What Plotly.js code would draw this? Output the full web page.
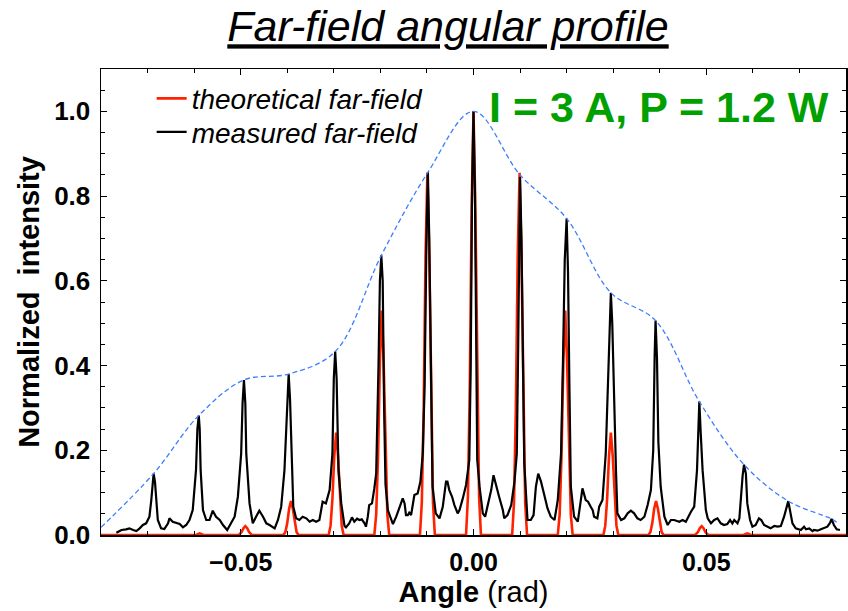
<!DOCTYPE html>
<html>
<head>
<meta charset="utf-8">
<script src="https://cdn.plot.ly/plotly-3.0.1.min.js"></script>
<style>html,body{margin:0;padding:0;background:#fff;}#chart{width:848px;height:611px;}</style>
</head>
<body>
<div id="chart"></div>
<script>
// Measured far-field (black)
const measAngle = [
-0.0767,-0.0756,-0.0746,-0.0739,-0.0731,-0.0724,-0.0717,-0.0710,-0.0703,-0.0696,-0.0692,-0.0689,-0.0687,-0.0684,-0.0681,-0.0678,
-0.0671,-0.0664,-0.0656,-0.0653,-0.0646,-0.0638,-0.0631,-0.0624,-0.0617,-0.0610,-0.0603,-0.0596,-0.0593,-0.0590,-0.0588,-0.0586,
-0.0581,-0.0574,-0.0567,-0.0560,-0.0553,-0.0545,-0.0538,-0.0529,-0.0520,-0.0513,-0.0506,-0.0499,-0.0496,-0.0493,-0.0490,-0.0488,
-0.0481,-0.0474,-0.0467,-0.0460,-0.0452,-0.0445,-0.0438,-0.0431,-0.0427,-0.0420,-0.0413,-0.0406,-0.0400,-0.0397,-0.0394,-0.0390,
-0.0387,-0.0381,-0.0374,-0.0367,-0.0359,-0.0352,-0.0345,-0.0338,-0.0331,-0.0324,-0.0317,-0.0309,-0.0303,-0.0300,-0.0297,-0.0294,
-0.0290,-0.0284,-0.0277,-0.0274,-0.0267,-0.0261,-0.0256,-0.0250,-0.0245,-0.0240,-0.0234,-0.0231,-0.0227,-0.0224,-0.0218,-0.0213,
-0.0209,-0.0204,-0.0201,-0.0198,-0.0195,-0.0192,-0.0189,-0.0184,-0.0177,-0.0173,-0.0166,-0.0159,-0.0152,-0.0148,-0.0145,-0.0141,
-0.0138,-0.0134,-0.0131,-0.0127,-0.0120,-0.0114,-0.0109,-0.0105,-0.0101,-0.0098,-0.0095,-0.0091,-0.0088,-0.0081,-0.0073,-0.0066,
-0.0059,-0.0056,-0.0052,-0.0046,-0.0041,-0.0034,-0.0030,-0.0023,-0.0016,-0.0009,-0.0006,-0.0003,0.0000,0.0003,0.0006,0.0008,
0.0013,0.0020,0.0025,0.0030,0.0038,0.0043,0.0048,0.0055,0.0063,0.0066,0.0073,0.0081,0.0088,0.0093,0.0096,0.0098,
0.0100,0.0103,0.0106,0.0109,0.0116,0.0123,0.0129,0.0134,0.0139,0.0145,0.0152,0.0159,0.0166,0.0174,0.0181,0.0188,
0.0192,0.0196,0.0200,0.0203,0.0206,0.0209,0.0216,0.0224,0.0229,0.0234,0.0241,0.0246,0.0252,0.0256,0.0259,0.0266,
0.0270,0.0277,0.0284,0.0288,0.0292,0.0295,0.0298,0.0302,0.0306,0.0309,0.0317,0.0324,0.0331,0.0338,0.0345,0.0352,
0.0359,0.0367,0.0374,0.0381,0.0386,0.0389,0.0391,0.0394,0.0397,0.0402,0.0410,0.0417,0.0424,0.0431,0.0442,0.0449,
0.0456,0.0467,0.0474,0.0480,0.0482,0.0485,0.0488,0.0492,0.0499,0.0503,0.0510,0.0517,0.0524,0.0531,0.0538,0.0545,
0.0551,0.0556,0.0560,0.0567,0.0571,0.0574,0.0578,0.0581,0.0585,0.0588,0.0594,0.0599,0.0606,0.0613,0.0618,0.0624,
0.0631,0.0638,0.0646,0.0653,0.0660,0.0667,0.0676,0.0681,0.0685,0.0692,0.0703,0.0710,0.0714,0.0721,0.0728,0.0731,
0.0739,0.0746,0.0753,0.0760,0.0766,0.0769,0.0774,0.0780,0.0787
];
const measValue = [
0.0055,0.0118,0.0134,0.0157,0.0118,0.0094,0.0157,0.0236,0.0275,0.0432,0.0825,0.125,0.145,0.125,0.0825,0.0354,
0.0157,0.0141,0.0275,0.0393,0.0314,0.0275,0.0259,0.0181,0.0236,0.0354,0.0589,0.153,0.25,0.282,0.25,0.153,
0.0589,0.0354,0.0354,0.0573,0.0432,0.0354,0.0236,0.0118,0.0314,0.0432,0.0904,0.192,0.31,0.366,0.31,0.192,
0.0746,0.0275,0.0432,0.0573,0.0432,0.0275,0.0236,0.0196,0.0157,0.0354,0.0668,0.153,0.32,0.380,0.32,0.153,
0.0668,0.0393,0.0354,0.0432,0.0393,0.0314,0.0354,0.0314,0.0354,0.0786,0.0746,0.106,0.192,0.37,0.433,0.37,
0.153,0.0746,0.0212,0.0181,0.0275,0.0416,0.0314,0.0385,0.0354,0.0369,0.0275,0.0196,0.0432,0.0707,0.0746,0.110,
0.145,0.40,0.60,0.66,0.60,0.30,0.12,0.0589,0.0354,0.0259,0.0432,0.0628,0.0864,0.0746,0.0471,0.0471,
0.0526,0.0471,0.0668,0.0943,0.0982,0.126,0.192,0.35,0.70,0.856,0.70,0.35,0.114,0.0511,0.0393,0.0668,
0.126,0.126,0.106,0.0903,0.0707,0.0511,0.0589,0.0864,0.118,0.177,0.40,0.82,1.0,0.82,0.40,0.177,
0.114,0.0511,0.0432,0.0652,0.106,0.141,0.118,0.0903,0.0589,0.0393,0.0471,0.0707,0.126,0.192,0.45,0.72,
0.845,0.70,0.35,0.169,0.0354,0.0354,0.0471,0.114,0.145,0.126,0.0943,0.0628,0.0432,0.0354,0.0825,0.192,
0.40,0.65,0.747,0.62,0.35,0.114,0.0432,0.0314,0.0707,0.110,0.0825,0.0786,0.066,0.0589,0.0432,0.0393,
0.0668,0.0825,0.192,0.35,0.50,0.572,0.50,0.30,0.153,0.0511,0.0354,0.0393,0.0511,0.0573,0.0511,0.0393,
0.0354,0.0432,0.0707,0.106,0.20,0.42,0.506,0.42,0.22,0.114,0.0432,0.0236,0.0354,0.0354,0.0314,0.0354,
0.0314,0.055,0.0668,0.153,0.24,0.315,0.24,0.153,0.0589,0.0393,0.0275,0.0354,0.0393,0.0275,0.0236,0.0259,
0.0354,0.0275,0.0354,0.0275,0.0393,0.0903,0.14,0.166,0.145,0.0746,0.0354,0.0196,0.0236,0.0393,0.0354,0.0236,
0.0196,0.0157,0.0212,0.0196,0.0212,0.0432,0.080,0.055,0.0275,0.0157,0.0118,0.0196,0.0134,0.0157,0.0094,0.0118,
0.0102,0.0134,0.0157,0.0196,0.0291,0.038,0.0236,0.0134,0.0118
];

// Theoretical far-field (red)
const theoAngle = [
-0.0800,-0.0596,-0.0588,-0.0580,
-0.0504,-0.0498,-0.0494,-0.0490,-0.0486,-0.0482,-0.0476,
-0.0408,-0.0404,-0.0400,-0.0396,-0.0392,-0.0388,-0.0384,-0.0380,-0.0376,
-0.0311,-0.0307,-0.0303,-0.0299,-0.0295,-0.0291,-0.0287,-0.0283,-0.0279,
-0.0213,-0.0209,-0.0205,-0.0201,-0.0197,-0.0193,-0.0189,-0.0185,-0.0181,
-0.0115,-0.0111,-0.0107,-0.0103,-0.0099,-0.0095,-0.0091,-0.0087,-0.0083,
-0.0016,-0.0012,-0.0008,-0.0004,0.0000,0.0004,0.0008,0.0012,0.0016,
0.0083,0.0087,0.0091,0.0095,0.0099,0.0103,0.0107,0.0111,0.0115,
0.0181,0.0185,0.0189,0.0193,0.0197,0.0201,0.0205,0.0209,0.0213,
0.0279,0.0283,0.0287,0.0291,0.0295,0.0299,0.0303,0.0307,0.0311,
0.0376,0.0380,0.0384,0.0388,0.0392,0.0396,0.0400,0.0404,0.0408,
0.0476,0.0482,0.0486,0.0490,0.0494,0.0498,0.0504,
0.0580,0.0588,0.0596,0.0800
];
const theoValue = [
0,0,0.004,0,
0,0.007,0.016,0.021,0.016,0.007,0,
0,0.007,0.028,0.062,0.080,0.062,0.028,0.007,0,
0,0.022,0.085,0.186,0.242,0.186,0.085,0.022,0,
0,0.048,0.186,0.41,0.53,0.41,0.186,0.048,0,
0,0.077,0.30,0.66,0.855,0.66,0.30,0.077,0,
0,0.09,0.35,0.77,1.0,0.77,0.35,0.09,0,
0,0.077,0.30,0.66,0.855,0.66,0.30,0.077,0,
0,0.048,0.186,0.41,0.53,0.41,0.186,0.048,0,
0,0.022,0.085,0.186,0.242,0.186,0.085,0.022,0,
0,0.007,0.028,0.062,0.080,0.062,0.028,0.007,0,
0,0.007,0.016,0.021,0.016,0.007,0,
0,0.004,0,0
];

// Envelope (blue dashed) through the measured peaks
const envAngle = [-0.0800,-0.0687,-0.0590,-0.0493,-0.0397,-0.0297,-0.0198,-0.0098,0.0000,0.0100,0.0200,0.0295,0.0391,0.0485,0.0581,0.0676,0.0769,0.0780];
const envValue = [0.018,0.145,0.282,0.366,0.380,0.433,0.660,0.856,1.000,0.850,0.747,0.572,0.506,0.315,0.166,0.080,0.038,0.030];

const xTicks = [-0.05, 0, 0.05];
const seriesNames = ['theoretical far-field', 'measured far-field'];
const chartTitle = 'Far-field angular profile';
const conditionLabel = 'I = 3 A, P = 1.2 W';

const FONT = 'Liberation Sans, Arial, Helvetica, sans-serif';

const traces = [
  {x: theoAngle, y: theoValue, type: 'scatter', mode: 'lines', name: seriesNames[0], legend: 'legend',
   line: {color: '#ff2200', width: 2.6}},
  {x: measAngle, y: measValue, type: 'scatter', mode: 'lines', name: seriesNames[1], legend: 'legend2',
   line: {color: '#000000', width: 2.2}},
  {x: envAngle, y: envValue, type: 'scatter', mode: 'lines', name: 'envelope', showlegend: false,
   line: {color: '#3d7dff', width: 1.3, dash: '5px,3px', shape: 'spline', smoothing: 1}}
];

const legendCommon = {xanchor: 'left', yanchor: 'top', bgcolor: 'rgba(0,0,0,0)', font: {size: 28, style: 'italic'}};

const layout = {
  width: 848, height: 611,
  margin: {l: 101, r: 2, t: 69, b: 76},
  paper_bgcolor: '#ffffff', plot_bgcolor: '#ffffff',
  font: {family: FONT, color: '#000000'},
  showlegend: true,
  title: {text: chartTitle, font: {size: 43, style: 'italic', lineposition: 'under', color: '#000000'},
          x: 0.4658, xref: 'paper', xanchor: 'center', y: 0.957, yref: 'container', yanchor: 'middle'},
  xaxis: {range: [-0.08, 0.08], tickvals: xTicks, tickformat: '.2f', ticks: 'inside', ticklen: 6, tickwidth: 1,
          tickcolor: '#000', linecolor: '#000', linewidth: 1.5, mirror: 'allticks', showgrid: false, zeroline: false,
          tickfont: {size: 25, weight: 'bold'}, ticklabelstandoff: 4,
          minor: {dtick: 0.01, tick0: 0, ticks: 'inside', ticklen: 4, tickcolor: '#000', showgrid: false},
          title: {text: '<b>Angle</b> (rad)', font: {size: 29}, standoff: 7}},
  yaxis: {range: [0, 1.1], dtick: 0.2, tick0: 0, tickformat: '.1f', ticks: 'inside', ticklen: 6, tickwidth: 1,
          tickcolor: '#000', linecolor: '#000', linewidth: 1.5, mirror: 'allticks', showgrid: false, zeroline: false,
          tickfont: {size: 26, weight: 'bold'}, ticklabelstandoff: 4,
          minor: {dtick: 0.05, tick0: 0, ticks: 'inside', ticklen: 4, tickcolor: '#000', showgrid: false},
          title: {text: '<b>Normalized\u00a0\u00a0intensity</b>', font: {size: 29}, standoff: 6}},
  legend: Object.assign({x: 0.068, y: 0.990}, legendCommon),
  legend2: Object.assign({x: 0.068, y: 0.918}, legendCommon),
  annotations: [
    {text: '<b>' + conditionLabel + '</b>', xref: 'paper', yref: 'paper', x: 0.749, y: 0.9185,
     xanchor: 'center', yanchor: 'middle', showarrow: false, font: {size: 43, color: '#00a000'}}
  ]
};

Plotly.newPlot('chart', traces, layout, {displayModeBar: false, staticPlot: true});
</script>
</body>
</html>
